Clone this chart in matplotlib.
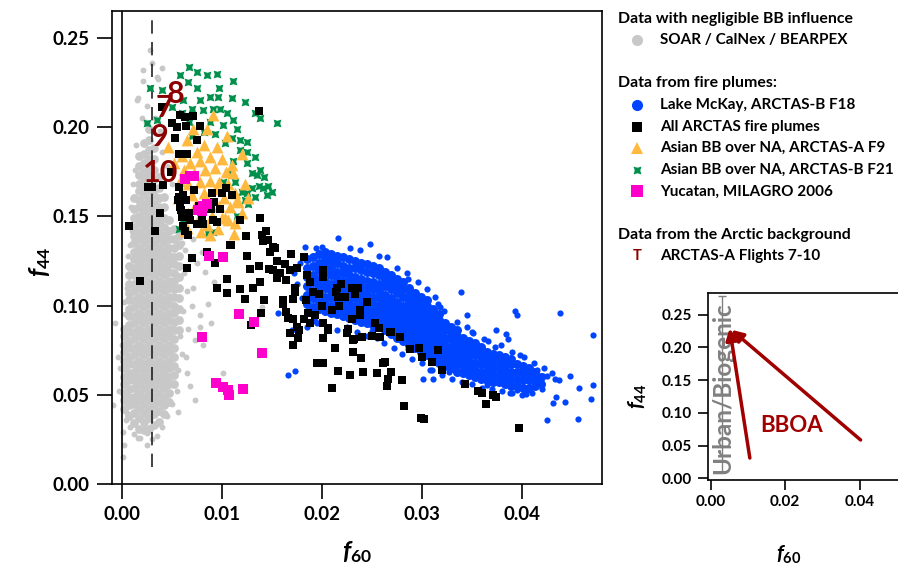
import matplotlib
matplotlib.use('Agg')
import matplotlib.pyplot as plt
import numpy as np

# ---------------- data ----------------
# SOAR / CalNex / BEARPEX (dense core, read column by column) + scattered points
soar_core_cols = [
    (0.0002, [0.042, 0.047, 0.051, 0.056, 0.060, 0.065, 0.069, 0.074, 0.078, 0.083, 0.087]),
    (0.0007, [0.038, 0.044, 0.049, 0.053, 0.058, 0.062, 0.067, 0.071, 0.076, 0.080, 0.085, 0.089,
              0.094, 0.098, 0.103, 0.107, 0.112, 0.117, 0.122]),
    (0.0012, [0.034, 0.040, 0.045, 0.049, 0.054, 0.058, 0.063, 0.067, 0.072, 0.076, 0.081, 0.085,
              0.090, 0.094, 0.099, 0.103, 0.108, 0.112, 0.117, 0.121, 0.126, 0.130, 0.135, 0.139,
              0.144, 0.149, 0.154, 0.160]),
    (0.0017, [0.031, 0.037, 0.042, 0.047, 0.051, 0.056, 0.060, 0.065, 0.069, 0.074, 0.078, 0.083,
              0.087, 0.092, 0.096, 0.101, 0.105, 0.110, 0.114, 0.119, 0.123, 0.128, 0.132, 0.137,
              0.141, 0.146, 0.150, 0.155, 0.159, 0.164, 0.168, 0.173, 0.178, 0.184]),
    (0.0022, [0.030, 0.035, 0.040, 0.045, 0.049, 0.054, 0.058, 0.063, 0.067, 0.072, 0.076, 0.081,
              0.085, 0.090, 0.094, 0.099, 0.103, 0.108, 0.112, 0.117, 0.121, 0.126, 0.130, 0.135,
              0.139, 0.144, 0.148, 0.153, 0.157, 0.162, 0.166, 0.171, 0.175, 0.180, 0.185, 0.191]),
    (0.0027, [0.031, 0.037, 0.042, 0.047, 0.051, 0.056, 0.060, 0.065, 0.069, 0.074, 0.078, 0.083,
              0.087, 0.092, 0.096, 0.101, 0.105, 0.110, 0.114, 0.119, 0.123, 0.128, 0.132, 0.137,
              0.141, 0.146, 0.150, 0.155, 0.159, 0.164, 0.168, 0.173, 0.177, 0.182, 0.187, 0.193,
              0.199]),
    (0.0032, [0.033, 0.039, 0.044, 0.049, 0.054, 0.058, 0.063, 0.067, 0.072, 0.076, 0.081, 0.085,
              0.090, 0.094, 0.099, 0.103, 0.108, 0.112, 0.117, 0.121, 0.126, 0.130, 0.135, 0.139,
              0.144, 0.148, 0.153, 0.157, 0.162, 0.166, 0.171, 0.176, 0.182, 0.188]),
    (0.0037, [0.035, 0.041, 0.046, 0.051, 0.056, 0.060, 0.065, 0.069, 0.074, 0.078, 0.083, 0.087,
              0.092, 0.096, 0.101, 0.105, 0.110, 0.114, 0.119, 0.123, 0.128, 0.132, 0.137, 0.141,
              0.146, 0.150, 0.155, 0.160, 0.166, 0.172]),
    (0.0042, [0.039, 0.044, 0.049, 0.054, 0.058, 0.063, 0.067, 0.072, 0.076, 0.081, 0.085, 0.090,
              0.094, 0.099, 0.103, 0.108, 0.112, 0.117, 0.121, 0.126, 0.130, 0.135, 0.139, 0.144,
              0.149, 0.155, 0.161]),
    (0.0047, [0.046, 0.051, 0.056, 0.060, 0.065, 0.069, 0.074, 0.078, 0.083, 0.087, 0.092, 0.096,
              0.101, 0.105, 0.110, 0.114, 0.119, 0.123, 0.128, 0.132, 0.137, 0.142, 0.148]),
    (0.0052, [0.056, 0.061, 0.066, 0.071, 0.076, 0.081, 0.086, 0.091, 0.096, 0.100, 0.105, 0.109,
              0.114, 0.118, 0.123, 0.127, 0.132, 0.137, 0.143]),
    (0.0057, [0.086, 0.092, 0.098, 0.104, 0.110, 0.116, 0.122, 0.128, 0.134, 0.139]),
]
soar_scatter = [
    (-0.0007, 0.090), (-0.0009, 0.044), (0.0001, 0.029), (0.0001, 0.015), (0.0002, 0.022),
    (0.0004, 0.036), (-0.0003, 0.052), (-0.0002, 0.065), (0.0000, 0.078), (-0.0004, 0.071),
    (0.0003, 0.095), (0.0002, 0.102), (0.0005, 0.110), (0.0006, 0.128), (0.0008, 0.134),
    (0.0010, 0.142), (0.0009, 0.155), (0.0011, 0.168), (0.0013, 0.176), (0.0014, 0.190),
    (0.0015, 0.215), (0.0020, 0.205), (0.0021, 0.226), (0.0025, 0.212), (0.0028, 0.243),
    (0.0030, 0.236), (0.0035, 0.228), (0.0040, 0.233), (0.0033, 0.205), (0.0038, 0.198),
    (0.0021, 0.232), (0.0036, 0.227), (0.0016, 0.216), (0.0028, 0.222), (0.0024, 0.203),
    (0.0040, 0.186), (0.0045, 0.178), (0.0050, 0.168), (0.0055, 0.160), (0.0060, 0.150),
    (0.0062, 0.142), (0.0063, 0.131), (0.0062, 0.118), (0.0065, 0.108), (0.0061, 0.097),
    (0.0058, 0.083), (0.0060, 0.073), (0.0056, 0.064), (0.0055, 0.052), (0.0050, 0.045),
    (0.0045, 0.038), (0.0040, 0.032), (0.0035, 0.027), (0.0030, 0.025), (0.0025, 0.022),
    (0.0018, 0.026), (0.0012, 0.028), (0.0008, 0.032), (0.0071, 0.137), (0.0083, 0.119),
    (0.0086, 0.101), (0.0071, 0.110), (0.0078, 0.0946), (0.0073, 0.0806), (0.0065, 0.062),
    (0.0073, 0.047), (0.0101, 0.062), (0.0140, 0.099), (0.0081, 0.078), (0.0078, 0.088),
    (0.0068, 0.126), (0.0070, 0.100), (0.0066, 0.087), (0.0064, 0.071), (0.0068, 0.055),
    (0.0089, 0.090), (0.0092, 0.113), (0.0080, 0.130), (0.0056, 0.0403), (0.0025, 0.0285),
    (0.0016, 0.026), (0.0005, 0.040), (0.0060, 0.135), (0.0075, 0.124),
]

# Lake McKay, ARCTAS-B F18 (dense band, read column by column) + scattered points
mckay_core_cols = [
    (0.0185, [0.101, 0.106, 0.111, 0.116, 0.121, 0.126]),
    (0.0191, [0.099, 0.104, 0.108, 0.113, 0.117, 0.122, 0.127]),
    (0.0197, [0.098, 0.102, 0.107, 0.111, 0.115, 0.120, 0.124, 0.129]),
    (0.0203, [0.097, 0.101, 0.105, 0.110, 0.114, 0.118, 0.122, 0.126, 0.130]),
    (0.0209, [0.096, 0.100, 0.104, 0.108, 0.112, 0.117, 0.121, 0.125, 0.129]),
    (0.0215, [0.095, 0.099, 0.103, 0.107, 0.111, 0.115, 0.119, 0.124, 0.128]),
    (0.0221, [0.094, 0.098, 0.102, 0.106, 0.110, 0.114, 0.118, 0.122, 0.127]),
    (0.0227, [0.093, 0.097, 0.101, 0.105, 0.109, 0.113, 0.117, 0.121, 0.126]),
    (0.0233, [0.092, 0.096, 0.100, 0.104, 0.108, 0.112, 0.116, 0.121, 0.125]),
    (0.0239, [0.091, 0.095, 0.099, 0.103, 0.107, 0.111, 0.115, 0.120, 0.124]),
    (0.0245, [0.090, 0.094, 0.098, 0.102, 0.106, 0.110, 0.114, 0.119, 0.123]),
    (0.0251, [0.089, 0.093, 0.097, 0.101, 0.105, 0.109, 0.113, 0.118, 0.122]),
    (0.0257, [0.088, 0.092, 0.096, 0.100, 0.104, 0.108, 0.112, 0.117, 0.121]),
    (0.0263, [0.086, 0.090, 0.094, 0.098, 0.102, 0.106, 0.111, 0.115, 0.119]),
    (0.0269, [0.084, 0.088, 0.092, 0.096, 0.100, 0.104, 0.109, 0.113, 0.117]),
    (0.0275, [0.082, 0.086, 0.090, 0.094, 0.098, 0.102, 0.107, 0.111, 0.115]),
    (0.0281, [0.080, 0.084, 0.088, 0.092, 0.096, 0.100, 0.105, 0.109, 0.113]),
    (0.0287, [0.078, 0.082, 0.086, 0.090, 0.094, 0.098, 0.102, 0.106, 0.110]),
    (0.0293, [0.076, 0.080, 0.084, 0.088, 0.092, 0.096, 0.100, 0.104, 0.107]),
    (0.0299, [0.074, 0.078, 0.082, 0.086, 0.090, 0.094, 0.098, 0.102, 0.105]),
    (0.0305, [0.072, 0.076, 0.080, 0.084, 0.088, 0.092, 0.096, 0.100, 0.103]),
    (0.0311, [0.070, 0.074, 0.078, 0.082, 0.086, 0.090, 0.094, 0.098]),
    (0.0317, [0.068, 0.072, 0.076, 0.080, 0.084, 0.088, 0.092, 0.095]),
    (0.0323, [0.066, 0.070, 0.074, 0.078, 0.082, 0.086, 0.090]),
    (0.0329, [0.065, 0.069, 0.073, 0.077, 0.081, 0.085, 0.088]),
    (0.0335, [0.063, 0.067, 0.071, 0.075, 0.079, 0.083, 0.086]),
    (0.0341, [0.062, 0.066, 0.070, 0.074, 0.078, 0.082]),
    (0.0347, [0.061, 0.065, 0.069, 0.073, 0.077, 0.080]),
    (0.0353, [0.060, 0.064, 0.068, 0.072, 0.076, 0.079]),
    (0.0359, [0.059, 0.063, 0.067, 0.071, 0.075, 0.077]),
    (0.0365, [0.058, 0.062, 0.066, 0.070, 0.074]),
    (0.0371, [0.057, 0.061, 0.065, 0.069, 0.073]),
    (0.0377, [0.057, 0.061, 0.065, 0.069, 0.072]),
    (0.0383, [0.056, 0.060, 0.064, 0.068, 0.071]),
    (0.0389, [0.055, 0.059, 0.063, 0.067, 0.070]),
    (0.0395, [0.055, 0.059, 0.063, 0.067]),
    (0.0401, [0.054, 0.058, 0.062, 0.066]),
    (0.0407, [0.054, 0.058, 0.062, 0.065]),
    (0.0413, [0.055, 0.059, 0.063]),
    (0.0419, [0.056, 0.060]),
]
mckay_scatter = [
    (0.0183, 0.133), (0.0216, 0.138), (0.0248, 0.1345), (0.0238, 0.131), (0.0200, 0.133),
    (0.0190, 0.095), (0.0178, 0.124), (0.0175, 0.112), (0.0172, 0.118), (0.0180, 0.104),
    (0.0166, 0.061), (0.0173, 0.0633), (0.0156, 0.0957), (0.0170, 0.086), (0.0185, 0.088),
    (0.0195, 0.090), (0.0205, 0.088), (0.0215, 0.086), (0.0225, 0.088), (0.0235, 0.085),
    (0.0245, 0.083), (0.0255, 0.082), (0.0262, 0.079), (0.0272, 0.076), (0.0280, 0.073),
    (0.0290, 0.070), (0.0300, 0.068), (0.0310, 0.064), (0.0320, 0.061), (0.0330, 0.059),
    (0.0340, 0.057), (0.0350, 0.056), (0.0360, 0.054), (0.0370, 0.053), (0.0380, 0.052),
    (0.0390, 0.051), (0.0400, 0.050), (0.0410, 0.051), (0.0420, 0.053), (0.0425, 0.0605),
    (0.0421, 0.0605), (0.0415, 0.0638), (0.0388, 0.051), (0.0404, 0.0504), (0.0301, 0.0588),
    (0.0311, 0.0588), (0.0308, 0.064), (0.0313, 0.1047), (0.0318, 0.099), (0.0339, 0.1075),
    (0.0345, 0.0946), (0.0351, 0.0845), (0.0374, 0.086), (0.0384, 0.084), (0.0386, 0.081),
    (0.0379, 0.078), (0.0393, 0.097), (0.0395, 0.0946), (0.0438, 0.0957), (0.0471, 0.0834),
    (0.0448, 0.0605), (0.0457, 0.0538), (0.0471, 0.0554), (0.0469, 0.0476), (0.0456, 0.0364),
    (0.0425, 0.0358), (0.0443, 0.046), (0.0431, 0.0453), (0.0433, 0.0588), (0.0434, 0.049),
    (0.0265, 0.127), (0.0275, 0.121), (0.0285, 0.118), (0.0296, 0.113), (0.0305, 0.109),
    (0.0322, 0.097), (0.0335, 0.091), (0.0350, 0.085), (0.0362, 0.081), (0.0373, 0.077),
    (0.0390, 0.074), (0.0402, 0.071), (0.0412, 0.068), (0.0422, 0.065), (0.0430, 0.062),
    (0.0437, 0.058), (0.0194, 0.132), (0.0228, 0.132), (0.0257, 0.128), (0.0286, 0.115),
    (0.0316, 0.101), (0.0345, 0.088), (0.0366, 0.080), (0.0398, 0.072), (0.0193, 0.0915),
    (0.0250, 0.0855), (0.0286, 0.0755), (0.0327, 0.0625), (0.0365, 0.0555), (0.0395, 0.0525),
]

# All ARCTAS fire plumes
arctas_fire = [
    (0.0040, 0.211), (0.0137, 0.209), (0.0058, 0.2066), (0.0063, 0.2055), (0.0071, 0.206),
    (0.0050, 0.202), (0.0055, 0.200), (0.0064, 0.2004), (0.0078, 0.2004), (0.0053, 0.194),
    (0.0075, 0.1926), (0.0057, 0.1848), (0.0065, 0.1848), (0.0049, 0.1747), (0.0026, 0.1663),
    (0.0030, 0.1663), (0.0057, 0.1663), (0.0061, 0.1618), (0.0072, 0.1646), (0.0090, 0.163),
    (0.0100, 0.163), (0.0104, 0.1657), (0.0110, 0.1618), (0.0092, 0.158), (0.0056, 0.159),
    (0.0064, 0.159), (0.0058, 0.155), (0.0038, 0.152), (0.0067, 0.152), (0.0077, 0.156),
    (0.0098, 0.154), (0.0060, 0.1495), (0.0068, 0.1478), (0.0075, 0.1456), (0.0081, 0.1456),
    (0.0091, 0.1478), (0.0095, 0.1467), (0.0118, 0.1478), (0.0138, 0.149), (0.0063, 0.142),
    (0.0033, 0.1417), (0.0007, 0.1445), (0.0124, 0.139), (0.0144, 0.142), (0.0146, 0.1366),
    (0.0108, 0.134), (0.0151, 0.1327), (0.0041, 0.1674), (0.0078, 0.1534), (0.0089, 0.154),
    (0.0080, 0.149), (0.0057, 0.1607), (0.0059, 0.1535), (0.0061, 0.1445), (0.0066, 0.1395),
    (0.0140, 0.1394), (0.0141, 0.136), (0.0153, 0.132), (0.0148, 0.130),
    (0.0125, 0.128), (0.0169, 0.129), (0.0070, 0.1265), (0.0065, 0.121), (0.0182, 0.127),
    (0.0155, 0.1249), (0.0163, 0.123), (0.0137, 0.122), (0.0128, 0.1204), (0.0147, 0.1204),
    (0.0151, 0.1198), (0.0168, 0.1198), (0.0175, 0.121), (0.0158, 0.118), (0.0155, 0.1153),
    (0.0164, 0.1142), (0.0105, 0.1148), (0.0138, 0.113), (0.0131, 0.110), (0.0095, 0.110),
    (0.0118, 0.109), (0.0105, 0.107), (0.0173, 0.110), (0.0185, 0.117), (0.0188, 0.113),
    (0.0201, 0.1198), (0.0201, 0.116), (0.0123, 0.1036), (0.0142, 0.103), (0.0161, 0.103),
    (0.0161, 0.1008), (0.0173, 0.1075), (0.0171, 0.1036), (0.0139, 0.0957), (0.0164, 0.0963),
    (0.0166, 0.093), (0.0171, 0.0924), (0.0186, 0.0957), (0.0193, 0.0946), (0.0182, 0.0924),
    (0.0188, 0.090), (0.0201, 0.090), (0.0129, 0.089), (0.0175, 0.088), (0.0177, 0.086),
    (0.0168, 0.0845), (0.0176, 0.0817), (0.0171, 0.078), (0.0206, 0.086), (0.0201, 0.082),
    (0.0213, 0.076), (0.0225, 0.0845), (0.0231, 0.0806), (0.0231, 0.074), (0.0195, 0.0677),
    (0.0201, 0.0677), (0.0216, 0.0633), (0.0228, 0.061), (0.0210, 0.0538), (0.0085, 0.130),
    (0.0093, 0.124), (0.0018, 0.1137), (0.0109, 0.1338),
    (0.0215, 0.110), (0.0219, 0.112), (0.0214, 0.1075), (0.0216, 0.1047), (0.0223, 0.1047),
    (0.0230, 0.110), (0.0236, 0.110), (0.0233, 0.1064), (0.0245, 0.102), (0.0217, 0.100),
    (0.0200, 0.100), (0.0191, 0.1075), (0.0197, 0.1064), (0.0184, 0.103), (0.0210, 0.0974),
    (0.0238, 0.0974), (0.0238, 0.0946), (0.0230, 0.0924), (0.0253, 0.090), (0.0257, 0.0873),
    (0.0226, 0.0868), (0.0206, 0.0873), (0.0232, 0.0812), (0.0240, 0.0823), (0.0250, 0.0829),
    (0.0258, 0.0823), (0.0268, 0.085), (0.0278, 0.0823), (0.0288, 0.0756), (0.0297, 0.076),
    (0.0239, 0.0705), (0.0263, 0.0683), (0.0300, 0.071), (0.0310, 0.0683), (0.0316, 0.075),
    (0.0241, 0.0627), (0.0255, 0.0622), (0.0261, 0.0677), (0.0266, 0.0588), (0.0269, 0.0627),
    (0.0265, 0.0549), (0.0280, 0.0582), (0.0282, 0.0437), (0.0299, 0.037), (0.0302, 0.0364),
    (0.0320, 0.0638), (0.0343, 0.056), (0.0356, 0.052), (0.0360, 0.051), (0.0371, 0.0498),
    (0.0374, 0.0487), (0.0364, 0.0448), (0.0397, 0.0314), (0.0269, 0.0851),
]

# Asian BB over NA, ARCTAS-A F9
asian_f9 = [
    (0.0091, 0.2066), (0.0071, 0.199), (0.0085, 0.199), (0.0065, 0.1926), (0.0046, 0.1887),
    (0.0105, 0.195), (0.0120, 0.185), (0.0095, 0.189), (0.0075, 0.186), (0.0082, 0.190),
    (0.0060, 0.184), (0.0068, 0.180), (0.0078, 0.181), (0.0088, 0.183), (0.0100, 0.182),
    (0.0110, 0.179), (0.0062, 0.176), (0.0072, 0.174), (0.0083, 0.176), (0.0093, 0.177),
    (0.0104, 0.175), (0.0111, 0.174), (0.0066, 0.168), (0.0078, 0.169), (0.0088, 0.170),
    (0.0097, 0.169), (0.0106, 0.168), (0.0070, 0.162), (0.0082, 0.163), (0.0094, 0.165),
    (0.0102, 0.160), (0.0113, 0.163), (0.0074, 0.157), (0.0086, 0.159), (0.0097, 0.156),
    (0.0108, 0.155), (0.0116, 0.158), (0.0120, 0.152), (0.0066, 0.152), (0.0078, 0.150),
    (0.0090, 0.150), (0.0100, 0.149), (0.0106, 0.148), (0.0113, 0.146), (0.0063, 0.142),
    (0.0065, 0.1433), (0.0088, 0.1394), (0.0096, 0.143), (0.0103, 0.149), (0.0115, 0.159),
    (0.0123, 0.168), (0.0052, 0.180), (0.0058, 0.170), (0.0056, 0.160), (0.0085, 0.145),
    (0.0126, 0.160), (0.0112, 0.140), (0.0079, 0.141),
]

# Asian BB over NA, ARCTAS-B F21
asian_f21 = [
    (0.0067, 0.2335), (0.0058, 0.229), (0.0075, 0.2307), (0.0085, 0.229), (0.0095, 0.2296),
    (0.0111, 0.226), (0.0066, 0.225), (0.0075, 0.222), (0.0097, 0.2217), (0.0040, 0.2206),
    (0.0088, 0.217), (0.0096, 0.217), (0.0061, 0.215), (0.0078, 0.215), (0.0110, 0.216),
    (0.0123, 0.2139), (0.0070, 0.210), (0.0081, 0.2094), (0.0091, 0.210), (0.0098, 0.210),
    (0.0133, 0.2077), (0.0138, 0.2049), (0.0155, 0.202), (0.0105, 0.2077), (0.0111, 0.204),
    (0.0101, 0.201), (0.0115, 0.199), (0.0110, 0.194), (0.0118, 0.1926), (0.0125, 0.1915),
    (0.0125, 0.186), (0.0133, 0.183), (0.0125, 0.180), (0.0130, 0.174), (0.0135, 0.173),
    (0.0142, 0.172), (0.0111, 0.181), (0.0106, 0.174), (0.0101, 0.169), (0.0113, 0.169),
    (0.0120, 0.1635), (0.0125, 0.163), (0.0141, 0.1657), (0.0150, 0.1635), (0.0123, 0.159),
    (0.0086, 0.1405), (0.0091, 0.141), (0.0025, 0.202), (0.0050, 0.211), (0.0028, 0.222),
    (0.0060, 0.208), (0.0067, 0.203), (0.0088, 0.203), (0.0093, 0.196), (0.0103, 0.191),
    (0.0118, 0.187), (0.0126, 0.157), (0.0133, 0.161), (0.0137, 0.167), (0.0145, 0.162),
    (0.0115, 0.150), (0.0130, 0.166), (0.0070, 0.195), (0.0082, 0.197), (0.0061, 0.147),
    (0.0057, 0.143), (0.0138, 0.176), (0.0146, 0.1668), (0.0035, 0.204),
]

# Yucatan, MILAGRO 2006
yucatan = [
    (0.0063, 0.171), (0.0068, 0.1725), (0.0072, 0.1725), (0.0076, 0.1534), (0.0080, 0.153),
    (0.0081, 0.1555), (0.0085, 0.157), (0.0087, 0.128), (0.0101, 0.127), (0.0117, 0.095),
    (0.0132, 0.0907), (0.0080, 0.0823), (0.0140, 0.0733), (0.0094, 0.0565), (0.0101, 0.0543),
    (0.0106, 0.0526), (0.0107, 0.0498), (0.0121, 0.0532),
]

# Arctic background, ARCTAS-A flights 7-10 (drawn as flight numbers)
arctic_labels = ['7', '8', '9', '10']
arctic_x = [0.0042, 0.0054, 0.0038, 0.0039]
arctic_y = [0.2105, 0.2185, 0.1945, 0.1745]

# reference lines
zero_line_x = 0.0
urban_f60 = 0.003           # dashed line / urban-biogenic f60
urban_f44_range = (0.010, 0.279)

# inset arrows (tail -> head)
bboa_tails = [(0.0105, 0.031), (0.0402, 0.0586)]
bboa_heads = [(0.0051, 0.229), (0.0056, 0.227)]

main_xticks = [0.00, 0.01, 0.02, 0.03, 0.04]
main_yticks = [0.00, 0.05, 0.10, 0.15, 0.20, 0.25]
inset_xticks = [0.00, 0.02, 0.04]
inset_yticks = [0.00, 0.05, 0.10, 0.15, 0.20, 0.25]

# ---------------- style ----------------
plt.rcParams['font.family'] = ['Lato', 'DejaVu Sans']
plt.rcParams['font.weight'] = 'bold'
plt.rcParams['mathtext.fontset'] = 'custom'
plt.rcParams['mathtext.it'] = 'Lato:italic:bold'
plt.rcParams['mathtext.rm'] = 'Lato:bold'
plt.rcParams['mathtext.bf'] = 'Lato:bold'

C_GRAY = '#c8c8c8'
C_BLUE = '#0044ff'
C_ORANGE = '#ffb93f'
C_GREEN = '#00904c'
C_MAGENTA = '#ff00cc'
C_DARKRED = '#8b0000'
C_ARROW = '#a00000'
STAR = (4, 1, 45)

W, H = 898, 567
fig = plt.figure(figsize=(W / 100, H / 100), dpi=100)


def px_axes(l, t, r, b):
    return [l / W, 1 - b / H, (r - l) / W, (b - t) / H]


def flatten(cols):
    xs, ys = [], []
    for x, col in cols:
        xs += [x] * len(col)
        ys += col
    return np.array(xs), np.array(ys)


# ---------------- main axes ----------------
ax = fig.add_axes(px_axes(112, 11, 602, 484))
ax.set_xlim(-0.001, 0.048)
ax.set_ylim(0, 0.265)

sx, sy = flatten(soar_core_cols)
ex, ey = zip(*soar_scatter)
ax.scatter(sx, sy, s=40, c=C_GRAY, linewidths=0, zorder=2)
ax.scatter(ex, ey, s=18, c=C_GRAY, linewidths=0, zorder=2)

ax.axvline(zero_line_x, color='black', lw=1.2, zorder=3)
ax.plot([urban_f60, urban_f60], [0.0095, 0.265], color='#222222', lw=1.2,
        dashes=(8, 5), zorder=3)

bx, by = flatten(mckay_core_cols)
mx, my = zip(*mckay_scatter)
ax.scatter(bx, by, s=42, c=C_BLUE, linewidths=0, zorder=4)
ax.scatter(mx, my, s=20, c=C_BLUE, linewidths=0, zorder=4)

gx, gy = zip(*asian_f21)
ax.scatter(gx, gy, s=62, c=C_GREEN, marker=STAR, linewidths=0, zorder=5)
ox, oy = zip(*asian_f9)
ax.scatter(ox, oy, s=72, c=C_ORANGE, marker='^', linewidths=0, zorder=6)
kx, ky = zip(*arctas_fire)
ax.scatter(kx, ky, s=36, c='black', marker='s', linewidths=0, zorder=7)
yx, yy = zip(*yucatan)
ax.scatter(yx, yy, s=52, c=C_MAGENTA, marker='s', linewidths=0, zorder=8)

for lab, x, y in zip(arctic_labels, arctic_x, arctic_y):
    ax.text(x, y, lab, color=C_DARKRED, fontsize=22, fontweight='bold',
            ha='center', va='center', zorder=9)

ax.set_xticks(main_xticks)
ax.set_xticklabels([f'{v:.2f}' for v in main_xticks])
ax.set_yticks(main_yticks)
ax.set_yticklabels([f'{v:.2f}' for v in main_yticks])
ax.tick_params(direction='out', length=11, width=1.2, labelsize=13.5, pad=5)
for sp in ax.spines.values():
    sp.set_linewidth(1.2)

ax.set_xlabel(r'$f_{\mathit{60}}$', fontsize=18)
ax.xaxis.label.set_verticalalignment('center')
ax.xaxis.set_label_coords(0.5, -0.143)
ax.set_ylabel(r'$f_{\mathit{44}}$', fontsize=18)
ax.yaxis.label.set_verticalalignment('center')
ax.yaxis.set_label_coords(-0.147, 0.47)

# ---------------- inset ----------------
ax2 = fig.add_axes(px_axes(707.5, 293, 902, 480))
ax2.set_xlim(-0.00085, 0.0513)
ax2.set_ylim(-0.0026, 0.2833)
ax2.spines['right'].set_visible(False)
for sp in ax2.spines.values():
    sp.set_linewidth(1.2)
ax2.set_xticks(inset_xticks)
ax2.set_xticklabels([f'{v:.2f}' for v in inset_xticks])
ax2.set_yticks(inset_yticks)
ax2.set_yticklabels([f'{v:.2f}' for v in inset_yticks])
ax2.tick_params(direction='out', length=7, width=1.2, labelsize=11, pad=4)

lo, hi = urban_f44_range
ax2.errorbar([urban_f60], [(lo + hi) / 2], yerr=[(hi - lo) / 2], fmt='none',
             ecolor='#808080', elinewidth=1.0, capsize=3, capthick=1.0, zorder=2)
ax2.text(urban_f60 + 0.0003, 0.138, 'Urban/Biogenic', rotation=90, color='#808080',
         fontsize=17.5, fontweight='bold', ha='center', va='center', zorder=3)
for (x0, y0), (x1, y1) in zip(bboa_tails, bboa_heads):
    ax2.annotate('', xy=(x1, y1), xytext=(x0, y0),
                 arrowprops=dict(arrowstyle='-|>', color=C_ARROW, lw=2.5,
                                 mutation_scale=17, shrinkA=0, shrinkB=0), zorder=4)
ax2.text(0.0216, 0.080, 'BBOA', color=C_ARROW, fontsize=16, fontweight='bold',
         ha='center', va='center', zorder=5)

ax2.set_xlabel(r'$f_{60}$', fontsize=15)
ax2.xaxis.label.set_verticalalignment('center')
ax2.xaxis.set_label_coords(0.42, -0.40)
ax2.set_ylabel(r'$f_{44}$', fontsize=15)
ax2.yaxis.label.set_verticalalignment('center')
ax2.yaxis.set_label_coords(-0.36, 0.45)

# ---------------- legend (manual) ----------------
lg = fig.add_axes([0, 0, 1, 1], frameon=False)
lg.set_xlim(0, W)
lg.set_ylim(H, 0)
lg.axis('off')
legend_rows = [
    ('head', 'Data with negligible BB influence', None),
    ('item', 'SOAR / CalNex / BEARPEX', dict(marker='o', color=C_GRAY, ms=8)),
    ('blank', '', None),
    ('head', 'Data from fire plumes:', None),
    ('item', 'Lake McKay, ARCTAS-B F18', dict(marker='o', color=C_BLUE, ms=8)),
    ('item', 'All ARCTAS fire plumes', dict(marker='s', color='black', ms=7)),
    ('item', 'Asian BB over NA, ARCTAS-A F9', dict(marker='^', color=C_ORANGE, ms=9)),
    ('item', 'Asian BB over NA, ARCTAS-B F21', dict(marker=STAR, color=C_GREEN, ms=8)),
    ('item', 'Yucatan, MILAGRO 2006', dict(marker='s', color=C_MAGENTA, ms=8)),
    ('blank', '', None),
    ('head', 'Data from the Arctic background', None),
    ('item', 'ARCTAS-A Flights 7-10', 'T'),
]
y0, pitch = 18.5, 21.6
for i, (kind, label, sty) in enumerate(legend_rows):
    y = y0 + i * pitch
    if kind == 'head':
        lg.text(618, y, label, fontsize=11.4, fontweight='bold', ha='left', va='center')
    elif kind == 'item':
        if sty == 'T':
            lg.text(637, y, 'T', color=C_DARKRED, fontsize=10.5, fontweight='bold',
                    ha='center', va='center')
        else:
            lg.plot([637], [y], linestyle='none', marker=sty['marker'], color=sty['color'],
                    ms=sty['ms'], mew=0)
        lg.text(660, y, label, fontsize=11.0, fontweight='bold', ha='left', va='center')

fig.savefig('out.png', dpi=100)
